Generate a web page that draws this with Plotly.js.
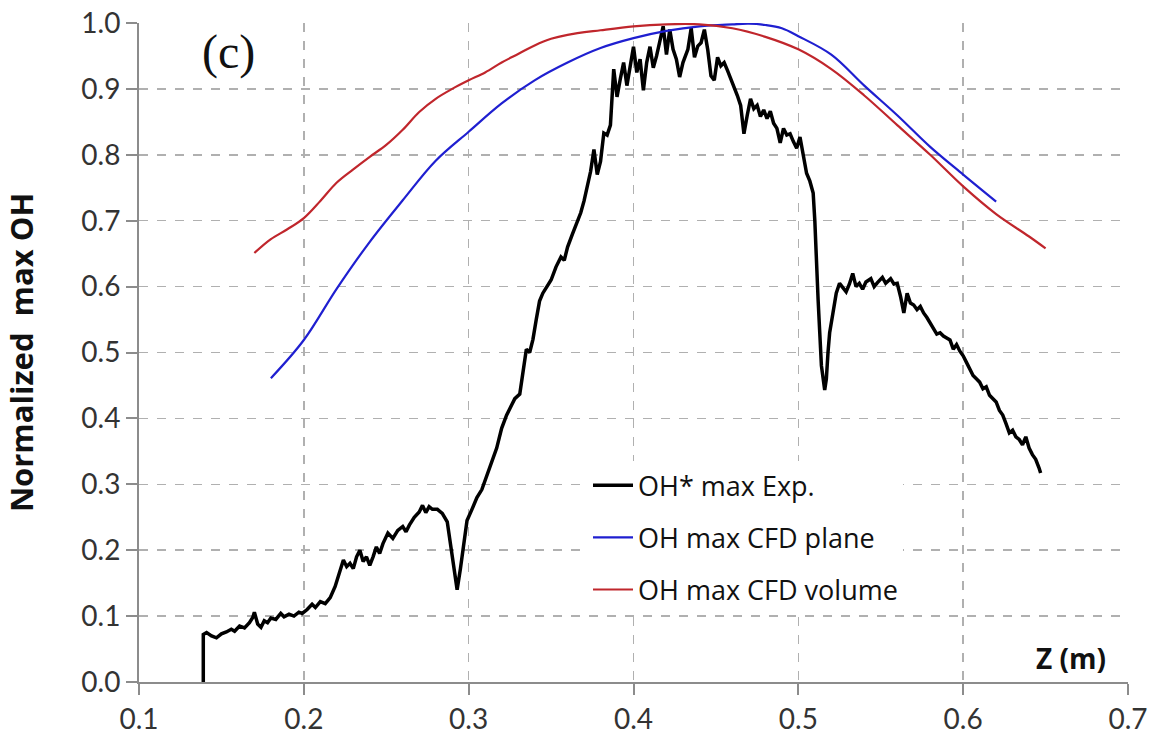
<!DOCTYPE html>
<html>
<head>
<meta charset="utf-8">
<script src="https://cdn.plot.ly/plotly-3.0.1.min.js"></script>
<style>html,body{margin:0;padding:0;background:#fff;}#chart{width:1170px;height:752px;}</style>
</head>
<body>
<div id="chart"></div>
<script>
// OH* max Exp. (experiment)
const expZ = [0.139,0.139,0.141,0.144,0.147,0.150,0.153,0.156,0.158,0.161,0.164,0.167,0.169,0.170,0.172,0.174,0.176,0.178,0.180,0.183,0.186,0.188,0.191,0.194,0.197,0.199,0.202,0.205,0.207,0.210,0.213,0.216,0.219,0.222,0.224,0.226,0.228,0.230,0.232,0.234,0.236,0.238,0.240,0.242,0.244,0.246,0.248,0.251,0.254,0.257,0.260,0.262,0.264,0.267,0.270,0.272,0.274,0.276,0.278,0.281,0.284,0.287,0.289,0.291,0.293,0.295,0.297,0.299,0.302,0.305,0.308,0.311,0.314,0.317,0.320,0.323,0.326,0.328,0.331,0.333,0.335,0.337,0.339,0.341,0.343,0.345,0.348,0.350,0.353,0.356,0.358,0.360,0.363,0.366,0.368,0.370,0.372,0.374,0.376,0.378,0.380,0.382,0.384,0.386,0.388,0.390,0.392,0.394,0.396,0.398,0.400,0.402,0.404,0.406,0.408,0.410,0.412,0.414,0.416,0.418,0.420,0.422,0.424,0.426,0.428,0.430,0.433,0.435,0.437,0.439,0.441,0.443,0.445,0.447,0.449,0.451,0.453,0.455,0.457,0.459,0.461,0.463,0.465,0.467,0.469,0.471,0.473,0.475,0.477,0.479,0.481,0.483,0.485,0.487,0.489,0.491,0.493,0.495,0.497,0.499,0.501,0.503,0.505,0.507,0.509,0.510,0.511,0.512,0.513,0.514,0.516,0.517,0.518,0.519,0.521,0.523,0.525,0.527,0.529,0.531,0.533,0.535,0.537,0.539,0.541,0.544,0.546,0.548,0.551,0.553,0.556,0.558,0.560,0.562,0.564,0.566,0.568,0.570,0.572,0.574,0.576,0.578,0.580,0.582,0.584,0.586,0.588,0.590,0.592,0.594,0.596,0.598,0.600,0.602,0.604,0.606,0.608,0.610,0.612,0.614,0.616,0.618,0.620,0.622,0.624,0.626,0.628,0.630,0.632,0.634,0.636,0.638,0.640,0.642,0.644,0.646,0.647];
const expOH = [0,0.072,0.075,0.070,0.067,0.073,0.076,0.080,0.077,0.085,0.082,0.090,0.098,0.106,0.088,0.083,0.093,0.090,0.097,0.095,0.104,0.099,0.103,0.100,0.106,0.104,0.110,0.118,0.113,0.122,0.119,0.128,0.145,0.168,0.185,0.175,0.180,0.172,0.190,0.200,0.183,0.190,0.177,0.190,0.205,0.195,0.210,0.226,0.218,0.230,0.236,0.228,0.238,0.250,0.258,0.268,0.257,0.266,0.262,0.262,0.256,0.243,0.210,0.175,0.140,0.172,0.205,0.245,0.262,0.280,0.292,0.312,0.335,0.355,0.385,0.405,0.420,0.430,0.437,0.470,0.505,0.500,0.520,0.550,0.578,0.590,0.603,0.610,0.630,0.645,0.640,0.660,0.680,0.700,0.712,0.730,0.755,0.775,0.808,0.770,0.790,0.833,0.830,0.845,0.930,0.888,0.915,0.940,0.905,0.935,0.964,0.925,0.945,0.898,0.940,0.964,0.932,0.950,0.975,0.995,0.952,0.990,0.960,0.945,0.918,0.940,0.960,0.992,0.948,0.965,0.970,0.990,0.960,0.920,0.913,0.948,0.935,0.940,0.928,0.915,0.905,0.890,0.875,0.832,0.860,0.885,0.870,0.875,0.858,0.868,0.855,0.866,0.848,0.840,0.818,0.840,0.830,0.832,0.820,0.810,0.827,0.800,0.772,0.760,0.742,0.700,0.630,0.580,0.530,0.480,0.443,0.460,0.500,0.530,0.560,0.590,0.605,0.598,0.592,0.604,0.620,0.600,0.605,0.596,0.607,0.612,0.600,0.606,0.614,0.605,0.612,0.604,0.605,0.585,0.560,0.590,0.575,0.572,0.565,0.570,0.560,0.553,0.545,0.538,0.528,0.530,0.525,0.522,0.519,0.505,0.512,0.502,0.495,0.485,0.475,0.465,0.460,0.455,0.445,0.448,0.435,0.430,0.425,0.412,0.405,0.392,0.378,0.382,0.372,0.368,0.360,0.372,0.355,0.345,0.338,0.325,0.317];

// OH max CFD plane
const planeZ = [0.18,0.20,0.22,0.24,0.26,0.28,0.30,0.32,0.34,0.36,0.38,0.40,0.42,0.44,0.46,0.47,0.48,0.49,0.50,0.52,0.54,0.56,0.58,0.60,0.62];
const planeOH = [0.461,0.519,0.597,0.668,0.731,0.791,0.835,0.878,0.913,0.940,0.962,0.977,0.988,0.995,0.998,0.999,0.997,0.992,0.980,0.952,0.905,0.860,0.812,0.770,0.729];

// OH max CFD volume
const volZ = [0.17,0.18,0.19,0.20,0.21,0.22,0.23,0.24,0.25,0.26,0.27,0.28,0.29,0.30,0.31,0.32,0.33,0.34,0.35,0.36,0.38,0.40,0.42,0.44,0.46,0.48,0.50,0.52,0.54,0.56,0.58,0.60,0.62,0.64,0.65];
const volOH = [0.651,0.672,0.687,0.704,0.730,0.758,0.778,0.797,0.815,0.838,0.865,0.885,0.900,0.913,0.925,0.940,0.953,0.966,0.976,0.982,0.989,0.995,0.998,0.998,0.992,0.979,0.960,0.930,0.890,0.845,0.800,0.752,0.710,0.676,0.658];

const xTicks = [0.1,0.2,0.3,0.4,0.5,0.6,0.7];
const yTicks = [0.0,0.1,0.2,0.3,0.4,0.5,0.6,0.7,0.8,0.9,1.0];

const traces = [
  {x: expZ, y: expOH, name: 'OH* max Exp.', mode: 'lines', legendgroup: 'a',
   line: {color: '#000000', width: 3.5}},
  {x: planeZ, y: planeOH, name: 'OH max CFD plane', mode: 'lines', legendgroup: 'b',
   line: {color: '#1f1fd0', width: 2.2, shape: 'spline'}},
  {x: volZ, y: volOH, name: 'OH max CFD volume', mode: 'lines', legendgroup: 'c',
   line: {color: '#c0262c', width: 2.2, shape: 'spline'}}
];

const layout = {
  width: 1170, height: 752,
  margin: {l: 139, r: 42, t: 23, b: 70},
  paper_bgcolor: '#ffffff', plot_bgcolor: '#ffffff',
  font: {family: 'Lato, sans-serif', color: '#333333'},
  xaxis: {
    range: [0.1, 0.7], tickvals: xTicks, ticktext: xTicks.map(v => v.toFixed(1)),
    showline: true, linecolor: '#8c8c8c', linewidth: 2,
    ticks: 'outside', ticklen: 11, tickcolor: '#8c8c8c', tickwidth: 2,
    showgrid: true, gridcolor: '#b0b0b0', griddash: 'dash', gridwidth: 1.5,
    zeroline: false, tickfont: {size: 28, color: '#333333'}
  },
  yaxis: {
    range: [0, 1.0], tickvals: yTicks, ticktext: yTicks.map(v => v.toFixed(1)),
    showline: true, linecolor: '#8c8c8c', linewidth: 2,
    ticks: 'outside', ticklen: 11, tickcolor: '#8c8c8c', tickwidth: 2,
    showgrid: true, gridcolor: '#b0b0b0', griddash: 'dash', gridwidth: 1.5,
    zeroline: false, tickfont: {size: 28, color: '#333333'},
    title: {text: 'Normalized  max OH', font: {size: 31, color: '#111111', family: 'Open Sans, sans-serif', weight: 'bold'}, standoff: 38}
  },
  showlegend: true,
  legend: {
    x: 0.454, y: 0.335, xanchor: 'left', yanchor: 'top',
    bgcolor: 'rgba(255,255,255,1)', borderwidth: 0,
    font: {size: 27, color: '#111111', family: 'Open Sans, sans-serif'},
    tracegroupgap: 14, itemwidth: 40
  },
  annotations: [
    {text: '(c)', xref: 'paper', yref: 'paper', x: 0.09, y: 1.0, xanchor: 'center', yanchor: 'top',
     showarrow: false, font: {family: 'Liberation Serif, Times New Roman, serif', size: 48, color: '#111111'}},
    {text: '<b>Z (m)</b>', xref: 'paper', yref: 'paper', x: 0.98, y: 0.036, xanchor: 'right', yanchor: 'middle',
     showarrow: false, font: {family: 'Open Sans, sans-serif', size: 28, color: '#111111'}}
  ]
};

Plotly.newPlot('chart', traces, layout, {displayModeBar: false, staticPlot: true});
</script>
</body>
</html>
